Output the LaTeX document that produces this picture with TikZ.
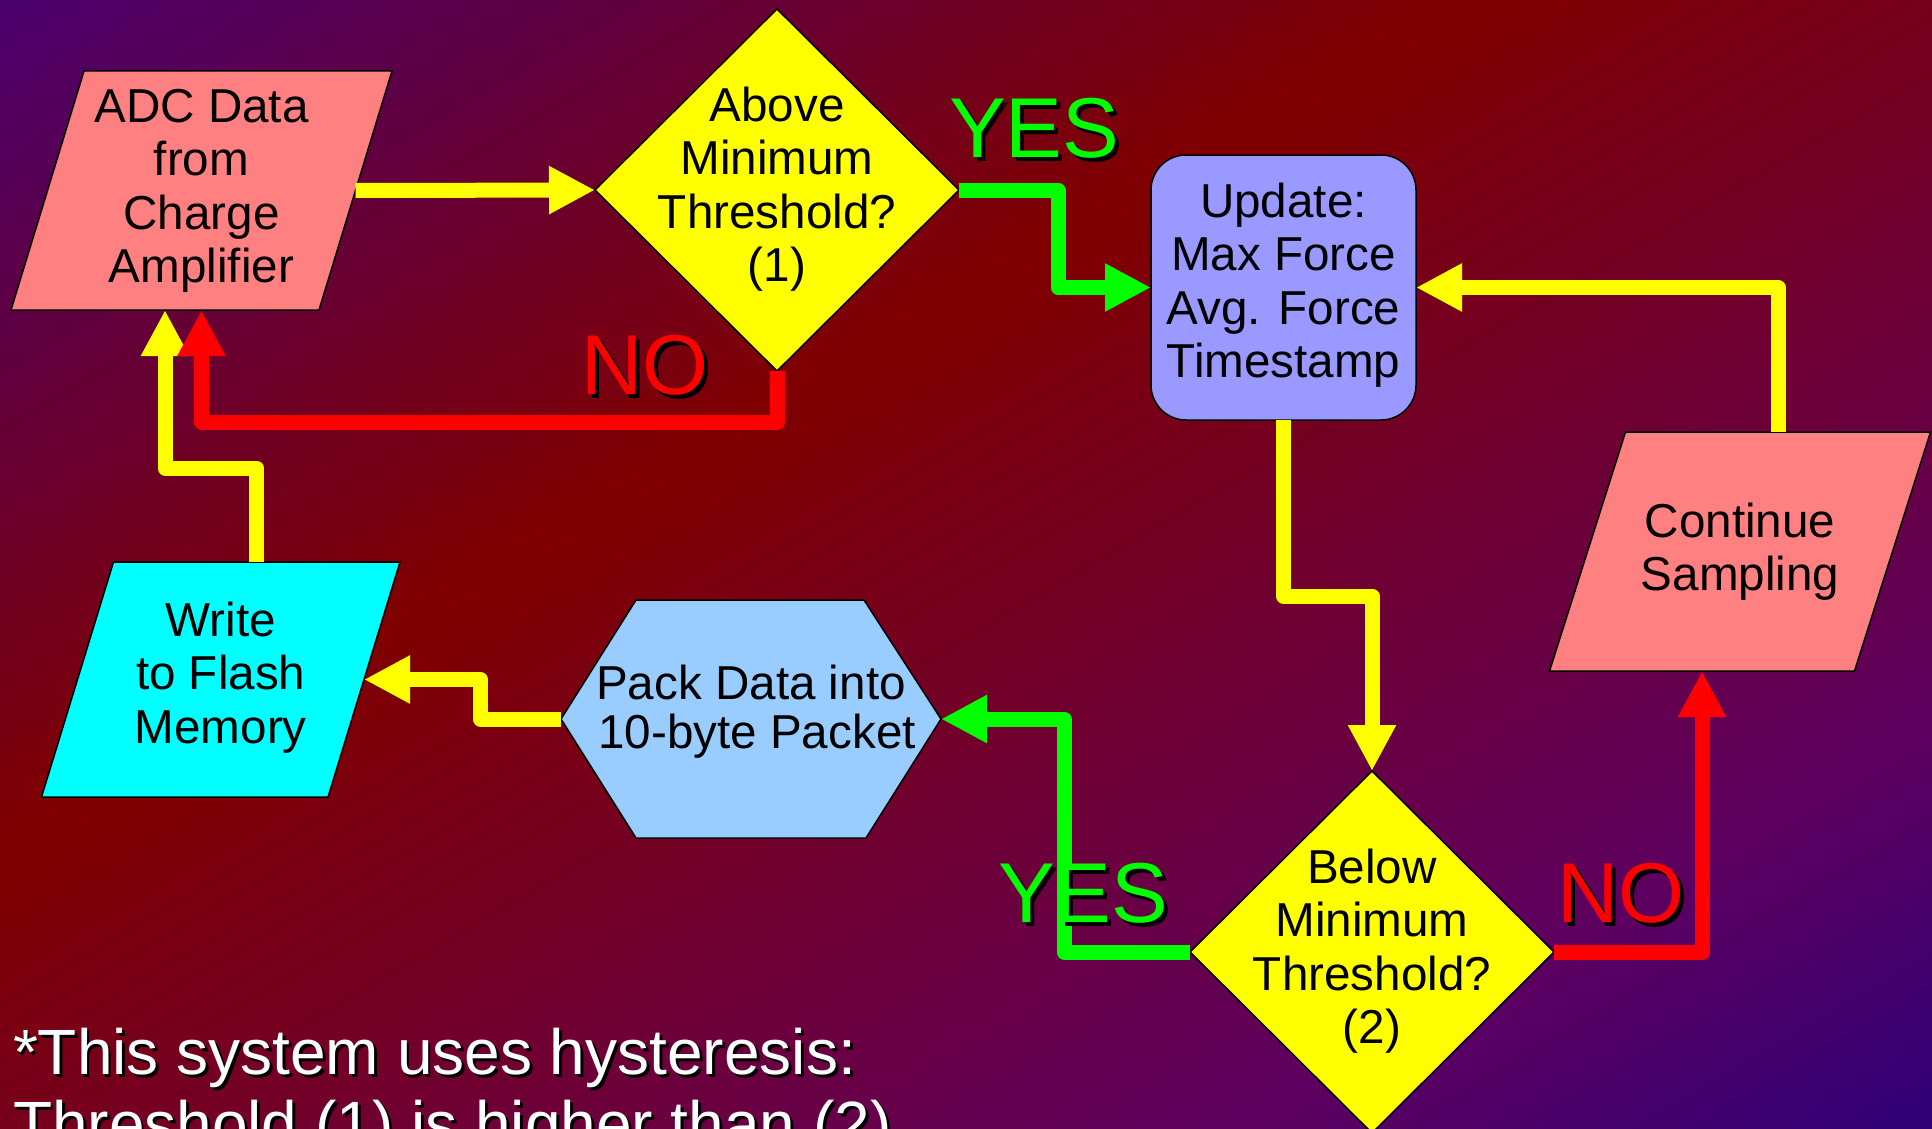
\documentclass[tikz,border=0pt]{standalone}
\usepackage{fontspec}
\setmainfont{Liberation Sans}
\usetikzlibrary{arrows.meta,calc,shapes.geometric,backgrounds}
\definecolor{gA}{HTML}{4A0070}
\definecolor{gB}{HTML}{800000}
\definecolor{gC}{HTML}{5F005F}
\definecolor{gD}{HTML}{2E0078}
\definecolor{salmon}{HTML}{FF8080}
\definecolor{dyellow}{HTML}{FFFF00}
\definecolor{updblue}{HTML}{9999FF}
\definecolor{packblue}{HTML}{99CCFF}
\definecolor{flashcyan}{HTML}{00FFFF}
\definecolor{lnyellow}{HTML}{FFFF00}
\definecolor{lngreen}{HTML}{00FF00}
\definecolor{lnred}{HTML}{FF0000}
% text centred on the node, first baseline raised by #1, taking no room
\newcommand\ctext[2]{\makebox[0pt]{\raisebox{#1}[0pt][0pt]{\begin{tabular}[t]{@{}c@{}}#2\end{tabular}}}}
% text with a black drop shadow: #1 colour, #2 offset, #3 text
\newcommand\shtext[3]{\makebox[0pt][l]{\hspace*{#2}\raisebox{-#2}{\color{black}#3}}{\color{#1}#3}}
% gradient segment: u0, u1, N-1, colour A, colour B   (u = x/W + y/H)
\newcommand\gradseg[5]{%
  \foreach \gi in {0,...,#3}{%
    \pgfmathsetmacro\gua{#1+(#2-#1)*\gi/(#3+1)}%
    \pgfmathsetmacro\gub{#1+(#2-#1)*(\gi+1)/(#3+1)+0.004}%
    \pgfmathsetmacro\gpc{100*(\gi+0.5)/(#3+1)}%
    \fill[fill={#5!\gpc!#4}] ({(\gua+1)*1932},-1129) -- ({(\gua-3)*1932},3387)
      -- ({(\gub-3)*1932},3387) -- ({(\gub+1)*1932},-1129) -- cycle;
  }}
\tikzset{
  boxtxt/.style={font=\fontsize{23.8}{26.75}\selectfont},
  shp/.style={draw=black, line width=0.75pt, inner sep=0pt, outer sep=0pt, boxtxt},
  dia/.style={shp, diamond, fill=dyellow, minimum width=182pt, minimum height=181pt},
  hid/.style={rectangle, inner sep=0pt, outer sep=0pt, boxtxt},
  outl/.style={draw=black, line width=0.75pt, line join=miter},
  flow/.style={line width=7.5pt, line join=round, -{Triangle[length=23pt,width=22.5pt]}},
  ylw/.style={flow, draw=lnyellow},
  grn/.style={flow, draw=lngreen},
  rd/.style={flow, draw=lnred},
  lbl/.style={inner sep=0pt, outer sep=0pt, anchor=base west, font=\fontsize{42.5}{48}\selectfont},
}
\begin{document}
\begin{tikzpicture}[x=0.5pt,y=-0.5pt]
\useasboundingbox (0,0) rectangle (1932,1129);
% background gradient
\begin{scope}[on background layer]
  \begin{scope}
    \clip (0,0) rectangle (1932,1129);
    \begin{scope}[overlay]
      \gradseg{-0.01}{0.76}{59}{gA}{gB}
      \gradseg{0.76}{1.63}{69}{gB}{gC}
      \gradseg{1.63}{2.01}{29}{gC}{gD}
    \end{scope}
  \end{scope}
\end{scope}

% nodes
\node[hid, minimum width=154pt, minimum height=119.5pt] (adc) at (201.5,190.5)
  {\ctext{34.1pt}{ADC Data\\from\\Charge\\Amplifier}};
\node[dia] (d1) at (777,190)
  {\ctext{34.5pt}{Above\\Minimum\\Threshold?\\(1)}};
\node[shp, rectangle, rounded corners=17.5pt, fill=updblue, minimum width=132.5pt, minimum height=132.5pt] (upd) at (1283.5,287.5)
  {\ctext{35.25pt}{Update:\\Max Force\\Avg. Force\\Timestamp}};
\node[hid, minimum width=152.5pt, minimum height=119.5pt] (cont) at (1740,551.5)
  {\ctext{7.05pt}{Continue\\Sampling}};
\node[dia] (d2) at (1372,952)
  {\ctext{34.35pt}{Below\\Minimum\\Threshold?\\(2)}};
\node[hid, minimum width=190pt, minimum height=119pt, font=\fontsize{23.8}{24.25}\selectfont] (pack) at (751,719)
  {\ctext{9.9pt}{Pack Data into\\\hspace*{6pt}10-byte Packet}};
\node[hid, minimum width=143.25pt, minimum height=117.5pt] (write) at (220.75,679.5)
  {\ctext{21.65pt}{Write\\to Flash\\Memory}};

% shape outlines drawn behind the texts
\begin{scope}[on background layer]
  \filldraw[outl, fill=salmon] ($(adc.north west)+(36.5,0)$) -- ($(adc.north east)+(36.5,0)$)
    -- ($(adc.south east)+(-36.5,0)$) -- ($(adc.south west)+(-36.5,0)$) -- cycle;
  \filldraw[outl, fill=salmon] ($(cont.north west)+(38,0)$) -- ($(cont.north east)+(38,0)$)
    -- ($(cont.south east)+(-38,0)$) -- ($(cont.south west)+(-38,0)$) -- cycle;
  \filldraw[outl, fill=flashcyan] ($(write.north west)+(36,0)$) -- ($(write.north east)+(36,0)$)
    -- ($(write.south east)+(-36,0)$) -- ($(write.south west)+(-36,0)$) -- cycle;
  \filldraw[outl, fill=packblue] (pack.west) -- ($(pack.north west)+(75,0)$) -- ($(pack.north east)+(-77,0)$)
    -- (pack.east) -- ($(pack.south east)+(-75,0)$) -- ($(pack.south west)+(75,0)$) -- cycle;
\end{scope}

% connectors
\draw[ylw] (adc.east) -- (d1.west);
\draw[grn] (d1.east) -- ++(99,0) |- (upd.west);
\draw[ylw] ($(write.north)+(36,0)$) -- ++(0,-94) -| ($(adc.south)+(-36.5,0)$);
\draw[rd] (d1.south) -- ++(0,51) -| (adc.south);
\draw[ylw] (upd.south) -- ++(0,176) -| (d2.north);
\draw[ylw] ($(cont.north)+(38,0)$) |- (upd.east);
\draw[rd] (d2.east) -| ($(cont.south)+(-38,0)$);
\draw[grn] (d2.west) -- ++(-126,0) |- (pack.east);
\draw[ylw] (pack.west) -- ++(-80.5,0) |- (write.east);

% labels
\node[lbl] (yes1) at (949,157) {\shtext{lngreen}{2pt}{YES}};
\node[lbl] (no1) at (581.5,394) {\shtext{lnred}{2pt}{NO}};
\node[lbl] (yes2) at (998,922) {\shtext{lngreen}{2pt}{YES}};
\node[lbl] (no2) at (1557,922) {\shtext{lnred}{2pt}{NO}};

% footnote
\node[overlay, inner sep=0pt, outer sep=0pt, anchor=base west, font=\fontsize{32}{36}\selectfont] (note) at (13,1074)
  {\begin{tabular}[t]{@{}l@{}}\shtext{white}{1.5pt}{*This system uses hysteresis:}\\
   \shtext{white}{1.5pt}{Threshold (1) is higher than (2)}\end{tabular}};
\end{tikzpicture}
\end{document}
